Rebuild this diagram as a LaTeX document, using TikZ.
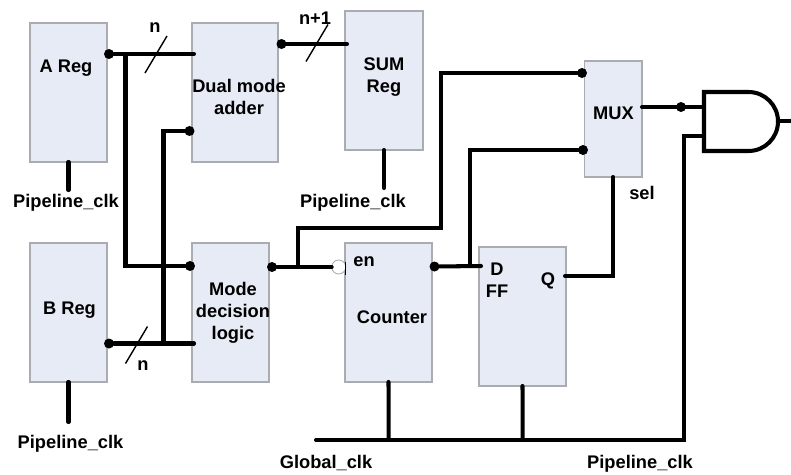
\documentclass[tikz,border=0pt]{standalone}
\usepackage{fontspec}
\setmainfont{Liberation Sans}
\usepackage{xcolor}
\usepackage{tikz}
\usetikzlibrary{positioning}
\definecolor{myfill}{RGB}{231,235,245}
\definecolor{myedge}{RGB}{170,172,178}

\begin{document}
\begin{tikzpicture}[
    x=0.02cm, y=-0.02cm,
    box/.style={rectangle, draw=myedge, fill=myfill, line width=0.6pt, inner sep=0pt, outer sep=0pt, minimum width=1.54cm, minimum height=2.78cm},
    txt/.style={align=center, inner sep=0pt, font=\fontsize{10.4}{12.6}\selectfont\bfseries},
    dot/.style={circle, fill=black, inner sep=0pt, outer sep=0pt, minimum size=0.2cm},
    bubble/.style={circle, draw=myedge, fill=white, line width=0.5pt, inner sep=0pt, outer sep=0pt, minimum size=0.28cm},
    wire/.style={line width=2.3pt, line cap=round},
    slash/.style={line width=0.8pt}
]
\useasboundingbox (0,0) rectangle (791,474);

\node[box] (areg) at (68.5,92.5) {};
\node[box, minimum width=1.72cm] (adder) at (235,92.5) {};
\node[box, minimum width=1.56cm] (sumreg) at (384,80.5) {};
\node[box, minimum width=1.15cm, minimum height=2.32cm] (mux) at (613.25,119) {};
\node[box] (breg) at (68.5,312.5) {};
\node[box] (mode) at (230.5,312.5) {};
\node[box, minimum width=1.74cm] (counter) at (388.5,312.5) {};
\node[box, minimum width=1.74cm] (ff) at (522.5,316.5) {};

\node[txt] (aregtxt) at (66,68) {A Reg};
\node[txt] (addertxt) at (239,97) {Dual mode\\adder};
\node[txt] (sumtxt) at (384,77) {SUM\\Reg};
\node[txt] (muxtxt) at (613.5,113) {MUX};
\node[txt] (bregtxt) at (69.5,310) {B Reg};
\node[txt] (modetxt) at (233,312.5) {Mode\\decision\\logic};
\node[txt] (entxt) at (364,261.5) {en};
\node[txt] (countertxt) at (392,317) {Counter};
\node[txt] (dtxt) at (497,269) {D};
\node[txt] (fftxt) at (497,291) {FF};
\node[txt] (qtxt) at (548,280.5) {Q};
\node[txt] (seltxt) at (642,193) {sel};
\node[txt] (ntop) at (155,28) {n};
\node[txt] (nsum) at (315,18) {n+1};
\node[txt] (nbot) at (143,366) {n};
\node[txt] (clka) at (66,203) {Pipeline\_clk};
\node[txt] (clksum) at (353,203) {Pipeline\_clk};
\node[txt] (clkb) at (70.5,444) {Pipeline\_clk};
\node[txt] (clkglobal) at (326,463) {Global\_clk};
\node[txt] (clkand) at (640,464) {Pipeline\_clk};

\node[dot] (aout) at (109,54) {};
\node[dot] (bout) at (109,343.5) {};
\node[dot] (addout) at (281.5,44) {};
\node[dot] (addin) at (189.5,131) {};
\node[dot] (modein) at (190,266) {};
\node[dot] (modeout) at (272,267) {};
\node[dot] (countout) at (434.5,266.5) {};
\node[dot] (muxa) at (582,73) {};
\node[dot] (muxb) at (583,150) {};
\node[dot] (muxout) at (681,107) {};
\node[bubble] (enbub) at (338.7,267) {};

\coordinate (addera) at (194,54);
\coordinate (sumin) at (347,44);
\coordinate (modeb) at (194,343.5);
\coordinate (atap) at (125.5,54);
\coordinate (btap) at (163.5,343.5);
\coordinate (modetap) at (298,267);
\coordinate (counttap) at (470,266);
\coordinate (ffd) at (481,266);
\coordinate (ffq) at (565,276);
\coordinate (andtop) at (704,92);
\coordinate (andbot) at (704,151);
\coordinate (anda) at (704,107);
\coordinate (andb) at (704,136);
\coordinate (andout) at (791,121);
\coordinate (andtip) at (778,121);
\coordinate (globalstart) at (316,440);
\coordinate (globalcount) at (388.7,440);
\coordinate (globalff) at (522.7,440);
\coordinate (globalend) at (683.7,440);

\draw[wire] (aout) -- (addera);
\draw[wire] (addout) -- (sumin);
\draw[wire] (bout) -- (modeb);
\draw[wire] (atap) |- (modein);
\draw[wire] (addin) -| (btap);
\draw[wire] (modeout) -- (enbub);
\draw[wire] (modetap) |- (298,228) -| (441,73) -- (muxa);
\draw[wire] (countout) -- (ffd);
\draw[wire] (counttap) |- (muxb);
\draw[wire] (ffq) -| (mux.south);
\draw[wire] (mux.east |- anda) -- (anda);
\draw[wire] (globalstart) -- (globalend) |- (andb);
\draw[wire] (counter.south) -- (globalcount);
\draw[wire] (ff.south) -- (globalff);
\draw[wire] (areg.south) -- (68.5,190);
\draw[wire] (sumreg.south) -- (384,188);
\draw[wire] (breg.south) -- (68.5,422);
\draw[line width=0.6pt] (345.7,262) -- (345.7,275);

\draw[wire, line join=miter] (andtop) -- (748.5,92) arc[start angle=-90, end angle=90, radius=29.5] -- (andbot) -- cycle;
\draw[wire] (andtip) -- (andout);

\foreach \tickx/\ticky in {156/54, 317/42.5, 136.5/344.5}
    \draw[slash] ([shift={(-11,19)}]\tickx,\ticky) -- ([shift={(11,-18)}]\tickx,\ticky);
\end{tikzpicture}
\end{document}
